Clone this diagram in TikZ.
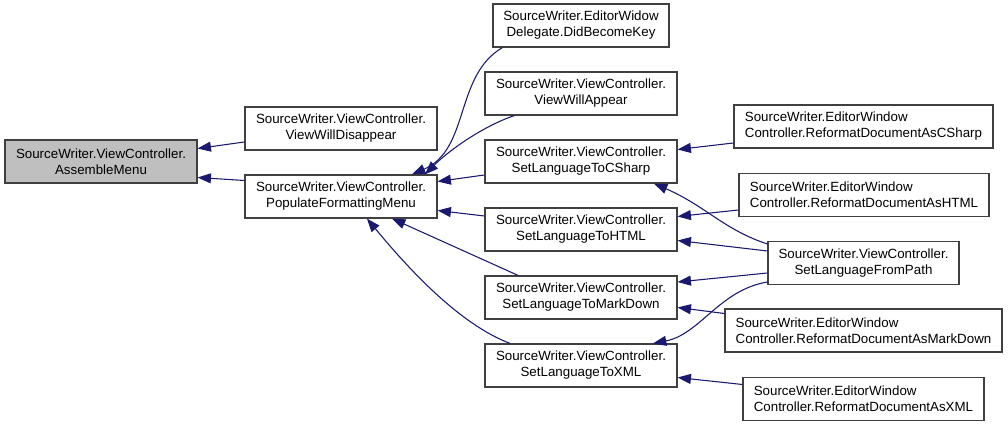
\documentclass[tikz,border=0pt]{standalone}
\usepackage{fontspec}
\setmainfont{Liberation Sans}
\usetikzlibrary{arrows.meta}
\definecolor{edgeblue}{HTML}{191970}
\definecolor{boxline}{HTML}{404040}
\tikzset{
  fn/.style={draw=boxline,fill=white,line width=.9pt,minimum height=32.25pt,inner sep=2pt,
    align=center,font=\fontsize{10}{12}\selectfont},
  fnl/.style={fn,align=left},
  here/.style={fn,fill=black!25},
  call/.style={draw=edgeblue,line width=.8pt,-{Triangle[length=10pt,width=7.5pt,fill=edgeblue]}}
}
\begin{document}
\begin{tikzpicture}[x=.75pt,y=-.75pt]
\useasboundingbox (0,0) rectangle (1008,427);
\node[here,minimum width=144pt] (assemble) at (101,161.5) {SourceWriter.ViewController.\\AssembleMenu};
\node[fn,minimum width=144pt] (disappear) at (341,128.5) {SourceWriter.ViewController.\\ViewWillDisappear};
\node[fn,minimum width=144pt] (populate) at (341,196.5) {SourceWriter.ViewController.\\PopulateFormattingMenu};
\node[fn,minimum width=132pt] (become) at (581,25.5) {SourceWriter.EditorWidow\\Delegate.DidBecomeKey};
\node[fn,minimum width=144pt] (appear) at (581,93.5) {SourceWriter.ViewController.\\ViewWillAppear};
\node[fn,minimum width=144pt] (csharp) at (581,161.5) {SourceWriter.ViewController.\\SetLanguageToCSharp};
\node[fn,minimum width=144pt] (tohtml) at (581,229.5) {SourceWriter.ViewController.\\SetLanguageToHTML};
\node[fn,minimum width=144pt] (tomd) at (581,297.5) {SourceWriter.ViewController.\\SetLanguageToMarkDown};
\node[fn,minimum width=144pt] (toxml) at (581,365.5) {SourceWriter.ViewController.\\SetLanguageToXML};
\node[fnl,minimum width=194.25pt] (refcs) at (863.5,126.5) {SourceWriter.EditorWindow\\Controller.ReformatDocumentAsCSharp};
\node[fnl,minimum width=187.5pt] (refhtml) at (864,195) {SourceWriter.EditorWindow\\Controller.ReformatDocumentAsHTML};
\node[fn,minimum width=143.25pt] (frompath) at (863.5,263) {SourceWriter.ViewController.\\SetLanguageFromPath};
\node[fnl,minimum width=207.75pt] (refmd) at (863.5,330.5) {SourceWriter.EditorWindow\\Controller.ReformatDocumentAsMarkDown};
\node[fnl,minimum width=180.75pt] (refxml) at (863.5,399) {SourceWriter.EditorWindow\\Controller.ReformatDocumentAsXML};
\draw[call] ([shift={(0,13.5)}]disappear.west) -- ([shift={(0,-13)}]assemble.east);
\draw[call] ([shift={(0,-16)}]populate.west) -- ([shift={(0,16)}]assemble.east);
\draw[call] ([shift={(10,0)}]become.south west) .. controls +(-48,28) and +(58,-25) .. ([shift={(71,0)}]populate.north);
\draw[call] ([shift={(30,0)}]appear.south west) .. controls +(-30,10) and +(25,-25) .. ([shift={(84,0)}]populate.north);
\draw[call] ([shift={(0,13.5)}]csharp.west) -- ([shift={(0,-15)}]populate.east);
\draw[call] ([shift={(0,-13.5)}]tohtml.west) -- ([shift={(0,14)}]populate.east);
\draw[call] ([shift={(-63,0)}]tomd.north) -- ([shift={(51,0)}]populate.south);
\draw[call] ([shift={(-71,0)}]toxml.north) .. controls +(-50,-19) and +(43,52) .. ([shift={(26,0)}]populate.south);
\draw[call] ([shift={(0,16.5)}]refcs.west) -- ([shift={(0,-12)}]csharp.east);
\draw[call] ([shift={(0,15)}]refhtml.west) -- ([shift={(0,-13)}]tohtml.east);
\draw[call] ([shift={(0,-19)}]frompath.west) .. controls +(-43,-14) and +(51,22) .. ([shift={(73,0)}]csharp.south);
\draw[call] ([shift={(0,-12)}]frompath.west) -- ([shift={(0,11)}]tohtml.east);
\draw[call] ([shift={(0,10)}]frompath.west) -- ([shift={(0,-15.5)}]tomd.east);
\draw[call] ([shift={(0,19)}]frompath.west) .. controls +(-48,8) and +(47,-9) .. ([shift={(72,0)}]toxml.north);
\draw[call] ([shift={(0,-17)}]refmd.west) -- ([shift={(0,10)}]tomd.east);
\draw[call] ([shift={(0,-14.5)}]refxml.west) -- ([shift={(0,12)}]toxml.east);
\end{tikzpicture}
\end{document}
